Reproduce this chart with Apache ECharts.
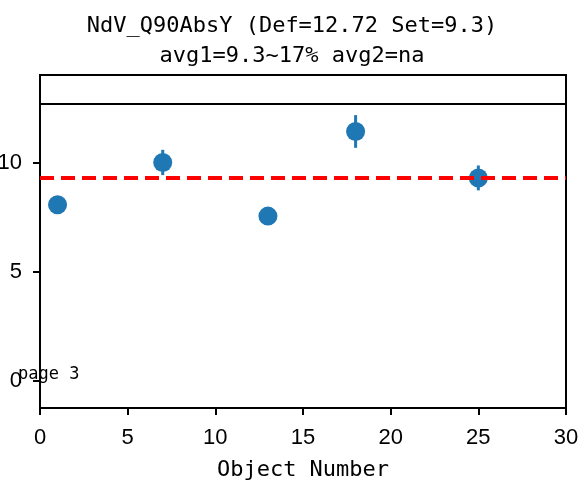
<!DOCTYPE html>
<html>
<head>
<meta charset="utf-8">
<script src="https://cdn.jsdelivr.net/npm/echarts@6/dist/echarts.min.js"></script>
<style>html,body{margin:0;padding:0;background:#fff;}#c{width:584px;height:484px;}</style>
</head>
<body>
<div id="c"></div>
<script>
const titleLines = ['NdV_Q90AbsY (Def=12.72 Set=9.3)', 'avg1=9.3~17% avg2=na'];
const xValues = [1, 7, 13, 18, 25];
const yValues = [8.07, 10.01, 7.55, 11.43, 9.30];
const yErrors = [0.3, 0.58, 0.3, 0.75, 0.57];
const defValue = 12.72;
const setValue = 9.3;
const xTicks = [0, 5, 10, 15, 20, 25, 30];
const yTicks = [0, 5, 10];
const xName = 'Object Number';
const pageText = 'page 3';

const pts = xValues.map((x, i) => [x, yValues[i], yErrors[i]]);
const chart = echarts.init(document.getElementById('c'));
const monoFont = '"DejaVu Sans Mono", monospace';
const tickFont = '"Liberation Sans", Arial, sans-serif';
chart.setOption({
  animation: false,
  title: {
    text: titleLines.join('\n'),
    left: 'center',
    top: 6,
    textStyle: { fontFamily: monoFont, fontSize: 22, fontWeight: 'normal', color: '#000', lineHeight: 30 }
  },
  grid: { left: 40, right: 18, top: 75, bottom: 76, show: true, borderColor: '#000', borderWidth: 2, containLabel: false, outerBoundsMode: 'none' },
  xAxis: {
    type: 'value', min: xTicks[0], max: xTicks[xTicks.length - 1], interval: 5,
    name: xName, nameLocation: 'middle', nameGap: 51,
    nameTextStyle: { fontFamily: monoFont, fontSize: 22, color: '#000' },
    axisLine: { onZero: false, lineStyle: { color: '#000', width: 2 } },
    axisTick: { show: true, inside: false, length: 7, lineStyle: { color: '#000', width: 2 } },
    axisLabel: { margin: 19, fontFamily: tickFont, fontSize: 22, color: '#000' },
    splitLine: { show: false }
  },
  yAxis: {
    type: 'value', min: -1.25, max: 14.02,
    axisLine: { show: true, onZero: false, lineStyle: { color: '#000', width: 2 } },
    axisTick: { show: true, inside: false, length: 7, customValues: yTicks, lineStyle: { color: '#000', width: 2 } },
    axisLabel: { margin: 18, customValues: yTicks, fontFamily: tickFont, fontSize: 22, color: '#000' },
    splitLine: { show: false }
  },
  graphic: [{
    type: 'text', left: 18, top: 366, z: 100,
    style: { text: pageText, font: '17px ' + monoFont, fill: '#000' }
  }],
  series: [
    {
      type: 'line', data: [], z: 1,
      markLine: {
        silent: true, symbol: 'none', label: { show: false },
        data: [
          { yAxis: defValue, lineStyle: { color: '#000', width: 2, type: 'solid' } },
          { yAxis: setValue, lineStyle: { color: '#ff0000', width: 4, type: [14, 7] } }
        ]
      }
    },
    {
      type: 'custom', z: 2, data: pts,
      renderItem: function (params, api) {
        const x = api.value(0), y = api.value(1), e = api.value(2);
        const a = api.coord([x, y + e]);
        const b = api.coord([x, y - e]);
        return { type: 'line', shape: { x1: a[0], y1: a[1], x2: b[0], y2: b[1] }, style: { stroke: '#1f77b4', lineWidth: 3 } };
      }
    },
    {
      type: 'scatter', z: 3, data: pts.map(p => [p[0], p[1]]),
      symbol: 'circle', symbolSize: 19,
      itemStyle: { color: '#1f77b4', opacity: 1 }
    }
  ]
});
</script>
</body>
</html>
